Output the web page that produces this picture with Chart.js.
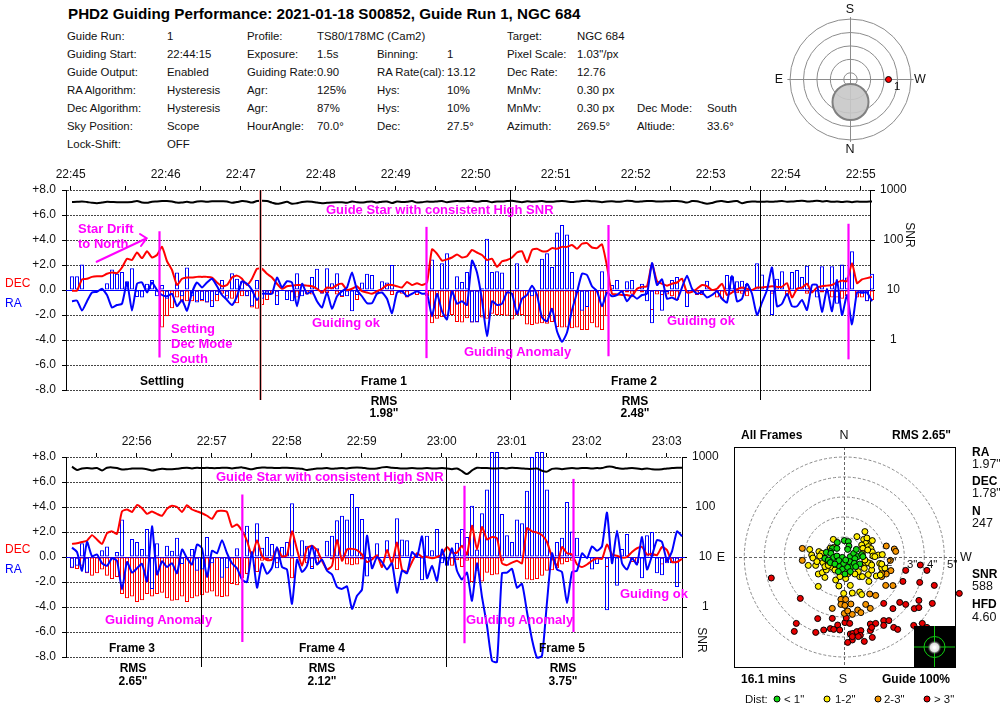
<!DOCTYPE html>
<html><head><meta charset="utf-8">
<script src="https://cdn.jsdelivr.net/npm/chart.js@4"></script>
<style>
html,body{margin:0;padding:0;background:#fff;width:1000px;height:716px;overflow:hidden}
canvas{position:absolute;display:block}
.t{position:absolute;white-space:nowrap;font-family:"Liberation Sans",Arial,sans-serif;font-size:11.4px;line-height:14px;color:#111;transform:translateY(-50%);z-index:5}
.c{transform:translate(-50%,-50%)}
.b{font-weight:bold;font-size:12px;color:#000}
.m{font-weight:bold;font-size:13px;color:#ff00ff}
.s{font-size:12.5px}
.v{transform:translate(-50%,-50%) rotate(90deg);font-size:12px}
.dot{position:absolute;width:7px;height:7px;border-radius:50%;border:1px solid #000;box-sizing:border-box;z-index:5;transform:translate(-50%,-50%)}
</style></head><body>
<canvas id="top" width="940" height="250" style="left:0;top:160px"></canvas>
<canvas id="bot" width="750" height="250" style="left:0;top:427px"></canvas>
<canvas id="sky" width="141" height="141" style="left:780px;top:9px"></canvas>
<canvas id="all" width="275" height="240" style="left:725px;top:437px"></canvas>
<script>
// ---------- top panel (22:45 - 22:55) samples ----------
const raBarsTop=[1.1,1.1,2.05,0,0,0,0,0.55,1.65,1.3,
1.45,0.7,1.75,-0.55,-0.6,0.5,0.8,-0.5,0.4,-0.7,
0,1.4,-0.5,1.8,-0.5,-1.0,-0.8,-1.0,-1.35,-0.4,
0.8,-0.7,1.35,0.9,0.7,-0.5,-1.3,0.8,-0.7,-0.3,
0,-1.2,0,-0.8,-0.9,1.35,-0.5,0,1.05,1.7,
-0.3,1.75,0.55,1.35,-0.5,-0.5,-1.7,-0.4,0.6,1.3,
1.2,-0.3,0.7,0.6,2.0,0,0,0,0,0,
0,0,2.45,0,2.15,2.95,0,1.1,0.65,1.45,
-2.6,-2.6,0.15,4.1,1.45,1.5,1.4,0,0,2.15,
0,0,-0.5,0,2.5,2.95,1.85,4.6,5.2,4.45,
1.45,-0.2,-1.65,-1.35,0,0,1.5,0,0.4,0.8,
0,0.7,0.8,0,0.5,-0.9,-2.65,-0.1,-1.65,-0.2,
0.8,1.05,-0.1,-1.35,0,0,-0.2,0.75,0,0,
0,1.2,1.1,0.7,0.75,0.5,0,2.15,1.25,0,
-2.0,0.9,1.5,0,1.45,1.6,1.05,1.95,-0.05,-0.6,
1.9,0,1.9,-1.1,2.05,1.0,3.1,0,-0.3,-0.9,1.3];
const decBarsTop=[0,0,0,0,0,0,0,0,0,0,
0,0,0,0,0,0,0,0,-3.0,-2.1,
-1.45,-0.6,-1.0,-0.9,-0.9,-0.9,-0.9,-1.0,-0.9,-0.9,
-0.3,-0.5,-0.7,-1.05,-0.5,-0.5,-1.4,-1.5,-1.2,-0.8,
-0.3,-0.5,0,-0.1,-0.2,-0.6,-0.1,-0.35,-0.35,0,
-0.2,-0.25,0,-0.35,-0.55,0,0,-0.8,0,0,
0,0,-0.1,-0.1,-0.4,-0.1,-0.3,-0.6,-0.1,-0.4,
0,-0.5,-2.65,-2.3,-2.15,-2.05,-2.0,-2.55,-2.6,-2.25,
-2.6,-2.55,-2.2,-2.3,-1.9,-2.0,-2.0,-2.05,-2.35,-2.0,
-2.0,-2.75,-2.8,-2.7,-2.65,-2.7,-2.55,-2.95,-3.0,-3.0,
-3.05,-3.0,-3.2,-3.2,-2.65,-3.0,-3.2,-2.1,0,0,
-0.2,-0.2,-0.3,-0.1,-0.2,-0.1,-1.6,-0.35,-0.4,-0.35,
-0.5,-0.8,0,0,0,-0.4,-0.4,0,0,-0.6,
-0.7,0,0,-0.25,-0.3,-0.5,0,0,0,0,
-0.3,0,0,-0.5,0,0,0,-0.3,0,0,
-0.2,-0.2,-0.6,-0.6,-0.7,-0.5,0,-0.6,-0.6,-0.9,-0.8];
const decLineTop=[-0.05,-0.05,0.85,0.9,1.05,1.1,1.1,1.3,1.4,1.35,
1.8,2.5,2.4,3.0,2.55,3.1,2.6,2.8,3.45,2.3,
1.6,0.4,0.9,1.0,1.0,1.05,1.05,1.05,1.0,0.6,
0.3,0.4,1.0,1.15,0.9,0.4,0.9,1.7,1.7,1.3,
1.0,0.5,0.1,0.3,0.35,0.4,0.4,0.35,0.3,0.1,
-0.2,0.2,0.15,0.4,0.5,0,0.1,0.3,-0.1,-0.2,
-0.3,-0.1,0.1,0.4,0.4,0.3,0.2,0.65,0.4,0.55,
0.4,0.6,3.25,2.9,2.35,2.45,2.6,2.85,2.6,2.7,
3.2,3.0,2.8,2.4,2.5,1.85,2.3,2.4,2.6,3.0,
3.1,2.2,3.2,3.3,3.1,3.1,3.35,3.3,3.45,3.45,
3.6,3.3,3.7,3.75,3.4,3.35,3.65,1.9,-0.3,-0.35,
-0.4,-0.4,-0.5,0.1,0.25,0.3,2.1,0.7,0.5,0.35,
0.5,0.6,0.9,-0.2,-0.15,0.1,0.4,0.3,0,0.1,
0.5,-0.4,-0.2,0.05,0.2,0.1,0,0.2,0.2,0.25,
0.3,0.25,0.25,0.55,-0.6,0.1,0.2,0.5,-0.2,0.2,
0.3,0.35,0.4,0.6,0.75,0.7,2.15,0.55,0.85,0.95,1.05];
const raLineTop=[-0.9,-0.85,-1.65,-0.9,-0.2,-0.15,0.1,-0.4,-1.4,-1.2,
-1.1,0.6,-1.65,0.5,0.6,-0.2,0.6,0,-0.4,-0.5,
-0.3,-1.3,-0.8,-1.65,-0.2,0.6,0.2,0.6,0.9,0.3,
-0.4,-0.8,-1.2,-0.5,0.7,0.5,0,-0.8,-0.3,-0.3,
-0.3,1.0,0.2,0.7,0.6,-1.3,0.5,-0.3,-0.1,-0.9,
-1.4,-0.2,-1.5,-0.5,-0.1,0.2,1.4,0,-0.5,-1.05,
-1.05,-0.3,-0.2,-0.7,-1.85,-0.2,-0.1,-0.5,-0.3,-0.1,
-0.3,-0.3,-2.1,-0.3,-1.7,-2.35,-0.1,-1.1,-0.9,-1.2,
2.35,1.4,-0.8,-3.7,-0.9,-1.2,-1.1,-0.2,-0.3,-1.9,
-0.7,-0.4,0.35,-0.4,-2.2,-2.5,-1.5,-3.3,-4.15,-3.4,
-1.6,-0.2,1.3,1.2,0.3,-0.1,-1.3,-0.2,-0.5,-0.4,
-0.1,-0.9,-0.4,-0.7,-0.4,-0.3,2.15,0.4,0.85,-0.7,
-0.6,-0.8,0.2,1.15,0.1,-0.3,-0.2,-0.6,-0.4,-0.1,
-0.7,-1.0,1.15,-0.9,-0.7,0.5,-0.3,-2.0,-1,0,
1.8,-1.3,-1.1,-0.3,-1.3,-1.3,-0.8,-1.6,0.4,0.4,
-1.75,0.1,-1.7,0.8,-2.0,-0.4,-2.75,-0.2,-0.2,-0.2,-0.9];
const snrTop=[575,580,590,575,555,545,560,580,575,570,
570,570,575,600,565,555,585,590,600,605,
590,560,565,580,560,590,595,585,595,595,
595,590,555,575,600,590,560,600,610,600,
560,530,550,580,530,545,575,590,580,560,
545,555,565,570,570,555,590,570,560,580,
590,560,585,590,550,590,575,580,600,560,
570,590,580,590,600,570,590,600,595,600,
600,580,600,600,570,590,590,600,610,590,
570,595,585,590,600,585,580,595,605,590,
575,590,600,610,595,590,570,590,595,585,
590,610,600,580,590,600,605,590,590,595,
600,605,590,560,600,595,560,530,550,590,
600,575,590,600,545,575,590,585,580,590,
580,590,600,585,590,600,610,590,595,610,
590,600,580,590,575,590,570,590,580,585,590];
const tickPosTop=[-0.26,10.74,18.74,25.74,33.74,41.74,49.74,56.74,64.74,72.74,80.74,88.74,96.74,104.74,112.74,119.74,127.74,135.74,142.74,150.74,157.74];
const timeLabelsTop={"-0.26":"22:45","18.74":"22:46","33.74":"22:47","49.74":"22:48","64.74":"22:49","80.74":"22:50","96.74":"22:51","112.74":"22:52","127.74":"22:53","142.74":"22:54","157.74":"22:55"};
const frameBreaksTop=[37.6,87.66,137.66];
const eventMarksTop=[[17.5,4.7,-5.4],[70.9,5.05,-5.45],[107.3,5.2,-5.3],[155.3,5.3,-5.55]];

// ---------- bottom panel (22:56 - 23:03) samples ----------
const raBarsBot=[-0.85,-0.7,1.1,-1.25,0,0,0.55,0.85,0,0.4,
3.0,0,1.45,1.2,0.65,2.25,-2.55,1.1,0,0.9,
0.5,1.55,-0.55,0,0.65,-1.1,-1.0,1.6,-0.5,0,
-1.65,-0.9,0,0.7,0,2.5,0,2.7,0.75,1.6,
1.05,-0.9,0.8,1.2,4.3,0,1.35,0.9,-0.95,0.7,
0,1.3,1.7,2.95,3.3,3.0,5.05,4.0,3.05,-1.55,
0,1.1,0,1.35,0,3.1,1.4,1.35,0,0,
-1.85,1.7,0.55,2.25,-0.5,-0.7,0,1.15,2.25,1.6,
4.1,0.6,3.5,5.4,8.4,8.4,3.45,1.75,1.2,3.0,
2.7,5.3,8.0,8.4,8.4,5.4,0,1.2,1.55,4.4,
2.05,1.55,0,0,-1.0,-0.55,0,-4.25,0,-2.3,
0.65,1.85,0,0,-1.7,1.75,2.0,-1.3,-1.45,-0.5,
-0.5,-2.4,0];
const decBarsBot=[-0.9,-0.95,-0.7,-1.3,-1.5,-1.3,-1.0,-1.5,-1.75,-1.6,
-2.95,-3.3,-3.15,-3.6,-3.45,-2.95,-3.15,-2.95,-2.85,-3.3,
-3.5,-3.45,-3.15,-3.6,-3.3,-3.15,-3.05,-2.85,-2.75,-3.15,
-3.2,-3.15,-2.15,-2.25,-1.7,-1.35,0,-1.2,-0.3,-0.2,
-0.1,-0.5,-0.1,-0.1,-1.7,0,-0.1,-0.5,-0.8,-0.5,
-0.1,-0.1,-0.2,-1.05,-0.1,-0.6,-0.65,-0.6,-0.2,-0.1,
0,-0.1,0,0,0,-0.95,0,0,0,0,
0,0,0,0,0,0,-0.7,-0.25,-0.8,-0.3,
-2.0,-1.1,-1.95,-1.25,-1.45,-1.4,-0.3,-0.1,-0.1,-0.1,
0,-1.8,-1.85,-1.75,-1.5,-1.1,-1.05,-0.9,-0.6,-0.4,
-0.3,0,0,0,0,0,0,-0.8,0,0,
0,0,-0.4,-0.5,0,0,0,0,-0.6,-0.4,
-0.4,-0.4,0];
const decLineBot=[1.05,1.1,1.2,1.3,1.75,1.4,1.05,1.9,2.05,1.85,
3.65,3.8,3.6,4.15,3.9,3.45,3.65,3.45,3.3,3.85,
4.1,4.0,3.6,4.15,3.8,3.65,3.5,3.3,3.05,3.65,
3.7,3.6,2.4,2.6,2.1,1.3,0.1,1.35,0.1,-0.25,
-0.2,0.7,0.05,0.15,2.05,0.6,-0.7,0.7,0.9,0.55,
-0.3,-1.0,-0.7,1.35,-0.3,0.6,0.65,0.55,0.2,-0.4,
-0.2,0.15,-0.8,0.55,-0.5,1.15,-1.0,-1.2,-0.4,0.3,
0,0,-0.1,0,0.2,0.8,0.35,0.35,0.9,0.2,
2.5,0.6,2.4,1.4,1.6,1.5,-0.5,-0.65,-0.45,-0.3,
-0.5,2.3,2.05,1.95,1.75,1.2,0,-0.7,0.8,0.3,
0.2,-0.6,-0.8,-0.6,-0.3,-0.1,-0.15,1.0,0.2,0.1,
-0.05,0,0.4,0.7,0.8,0.2,0.25,0.15,0.8,0.55,
-0.4,-0.4,-0.15];
const raLineBot=[0.75,0.4,-1.1,1.2,0.05,0.2,-0.5,-0.7,-0.1,-0.3,
-2.6,-0.4,-1.25,-0.9,-0.55,-1.95,2.45,-1.4,-0.35,-0.8,
-0.5,-1.3,0.6,-0.1,-0.6,1.0,0.7,-1.6,0.5,0.3,
1.35,0.3,-0.5,-0.9,-1.8,-2.0,0.4,-2.45,-0.5,-1.35,
-0.85,0.8,-0.8,-1.0,-3.75,-0.2,-1.2,-0.7,0.9,-0.6,
-0.2,-1.1,-1.4,-2.4,-2.55,-2.35,-4.15,-3.1,-2.6,1.7,
-0.9,0,-0.4,-1.0,-0.5,-2.85,-1.1,-1.3,0.4,0,
1.65,-1.7,-0.7,-1.9,0.6,-0.6,0.7,-1.1,-1.8,-1.25,
-3.5,-0.5,-3.2,-5.5,-8.3,-8.4,-1.3,-1.25,-0.95,-2.45,
-2.15,-4.4,-6.6,-8.05,-7.9,-3.6,0.3,-1,-1.2,-3.7,
-1.2,-1.1,0.3,-0.1,0.85,0.5,0.85,3.55,-0.5,2.1,
-0.5,-1.0,-0.1,-0.6,1.6,-1.0,0.1,1.35,1.2,-0.3,
0.45,2.05,1.65];
const snrBot=[640,550,590,600,590,600,540,610,620,600,
560,570,590,590,590,570,540,560,580,570,
570,580,600,610,590,610,600,610,600,600,
610,610,590,610,620,590,570,600,620,610,
610,600,610,610,600,590,580,550,570,590,
590,600,580,590,600,590,610,620,610,590,
580,590,620,630,610,600,590,590,600,590,
590,600,590,590,600,590,570,590,520,455,
540,610,600,600,590,590,600,590,610,600,
590,580,580,590,530,510,580,590,570,590,
600,590,600,600,590,600,600,640,640,600,
580,590,600,590,570,590,570,560,570,590,
600,610,610];
const tickPosBot=[4.94,12.94,19.94,27.94,35.94,42.94,49.94,57.94,65.94,73.94,80.94,87.94,94.94,102.94,110.94,118.94];
const timeLabelsBot={"12.94":"22:56","27.94":"22:57","42.94":"22:58","57.94":"22:59","73.94":"23:00","87.94":"23:01","102.94":"23:02","118.94":"23:03"};
const frameBreaksBot=[25.87,74.86];
const eventMarksBot=[[34.07,5,-6.8],[78.5,5.7,-6.9],[100.3,6.25,-6.0]];

// ---------- All Frames target: RA / Dec offset in arc-seconds ----------
const greenPts=[[0,0.82],[0.2,0.77],[-0.35,0.73],[0.23,0.55],[0.17,0.38],[-0.6,0.43],[-0.37,0.43],[-0.7,0.27],[-0.9,0.23],[-0.97,-0.07],[-0.67,0.18],[-0.53,-0.02],[-0.8,-0.15],[-0.7,-0.28],[-0.37,0.05],[-0.1,-0.02],[-0.27,-0.18],[-0.47,-0.35],[-0.23,-0.48],[-0.1,-0.62],[-0.03,-0.32],[-0.3,-0.73],[0.03,-0.85],[0.3,0.02],[0.27,-0.23],[0.47,0.18],[0.6,0.38],[0.67,0.02],[0.87,0.12],[0.53,-0.08],[0.37,-0.48],[0.17,-0.52],[0.3,-0.73],[0.5,-0.32],[0.77,-0.35],[0.93,0.02],[0.57,-0.48],[0.07,-0.15]];
const yellowPts=[[-1.73,0.38],[-1.63,0.1],[-1.57,-0.05],[-1.8,-0.42],[-1.43,-0.42],[-1.27,0.27],[-1.13,0.18],[-1.23,0.05],[-1.37,-0.23],[-1.07,-0.28],[-0.87,-0.15],[-1.3,-0.85],[-1.1,-0.78],[-0.9,-0.65],[-0.97,-1.02],[-1.3,-1.47],[-0.43,-1.15],[-0.27,-1.45],[0.07,-1.08],[0.3,-1.42],[0.4,-1.8],[-0.03,-1.82],[0.77,-1.75],[0.87,-1.88],[1.23,-1.22],[0.77,-0.98],[0.9,-0.98],[1.2,-0.88],[1.37,-0.65],[1.6,-0.95],[1.8,-0.9],[1.77,-0.32],[1.87,-0.55],[2.03,-0.55],[1.7,0.1],[1.9,0.12],[1.3,-0.32],[1.07,-0.32],[1.17,-0.28],[1.23,0.72],[1.03,1.27],[0.97,0.88],[1.13,0.95],[1.07,0.68],[1.4,0.82],[0.87,0.6],[0.93,0.43],[1.2,0.52],[1.33,0.42],[1.4,0.25],[0.9,0.18],[-0.55,0.88],[-0.53,0.48],[-0.7,0.45],[1.43,0.05],[-0.6,-0.52],[-0.47,-0.65],[0.7,-0.73],[0.2,-0.82],[1.03,-0.15],[1.0,-0.57],[1.37,-0.4],[1.87,-0.35],[0.63,1.02],[1.17,0.35],[1.53,0.02],[-0.97,-0.48],[-0.8,-0.42],[0.53,-0.85],[-0.22,-0.98]];
const orangePts=[[-2.1,0.43],[-2.1,-0.17],[2.1,0.55],[2.5,0.4],[2.57,0.28],[2.3,-0.17],[2.07,-1.42],[2.43,-1.43],[1.27,-1.85],[1.57,-1.92],[-0.6,-2.57],[-0.17,-2.12],[0.07,-2.12],[-0.17,-2.37],[0.03,-2.42],[0.33,-2.35],[0,-2.82],[0.17,-2.7],[0.4,-2.87],[0.67,-2.65],[0.83,-2.78],[1.07,-2.37],[1.3,-2.57],[1.87,-0.98],[2.1,-0.85],[2.33,-0.68],[1.87,-0.82]];
const redPts=[[-3.65,-1.05],[-2.2,-2.07],[-2.4,-3.32],[-2.5,-3.72],[-1.43,-3.77],[-1.33,-3.08],[-0.6,-3.07],[-1.03,-3.65],[-0.7,-3.58],[-0.53,-3.62],[-0.33,-3.4],[-0.23,-3.65],[0.03,-3.28],[0.1,-3.05],[0.27,-3.32],[0.3,-3.85],[0.43,-3.82],[0.63,-3.73],[0.83,-3.68],[0.8,-3.92],[0.4,-4.15],[0.17,-4.27],[1.0,-4.22],[1.4,-4.02],[1.3,-3.68],[1.3,-3.35],[1.57,-3.32],[1.97,-3.18],[1.97,-3.42],[2.23,-3.18],[2.47,-3.52],[2.67,-3.62],[3.47,-3.42],[3.9,-3.32],[4.13,-3.52],[1.97,-2.32],[2.43,-2.58],[2.77,-2.27],[3.07,-2.37],[3.5,-2.58],[3.73,-2.53],[3.73,-2.17],[4.4,-2.32],[2.93,-1.22],[3.07,-0.67],[3.77,-1.27],[4.5,-1.42],[4.13,-0.67],[3.8,-0.4],[5.92,-0.78],[5.87,-1.32],[5.87,-1.48],[5.75,-1.82],[1.37,-3.52],[0.4,-3.98],[0.7,-3.98]];
const targetRings=[1,2,3,4,5];

// ---------- sky position: degrees from zenith ----------
const skyRings=[10,30,50,70,90];
const starPos=[[56.6,0]];
const moonPos=[[0,-33.5]];

// ---------- texts ----------
const titleText="PHD2 Guiding Performance: 2021-01-18 S00852, Guide Run 1, NGC 684";
const infoColumns=[
 [67,["Guide Run:","Guiding Start:","Guide Output:","RA Algorithm:","Dec Algorithm:","Sky Position:","Lock-Shift:"]],
 [167,["1","22:44:15","Enabled","Hysteresis","Hysteresis","Scope","OFF"]],
 [247,["Profile:","Exposure:","Guiding Rate:","Agr:","Agr:","HourAngle:",""]],
 [317,["TS80/178MC (Cam2)","1.5s","0.90","125%","87%","70.0°",""]],
 [377,["","Binning:","RA Rate(cal):","Hys:","Hys:","Dec:",""]],
 [447,["","1","13.12","10%","10%","27.5°",""]],
 [507,["Target:","Pixel Scale:","Dec Rate:","MnMv:","MnMv:","Azimuth:",""]],
 [577,["NGC 684","1.03\"/px","12.76","0.30 px","0.30 px","269.5°",""]],
 [637,["","","","","Dec Mode:","Altiude:",""]],
 [707,["","","","","South","33.6°",""]]
];
const infoRows=[36,54,72,90,108,126,144];
const notes=[
 ["Star Drift",78,229,"m"],["to North",78,244,"m"],["Setting",171,329,"m"],["Dec Mode",171,344,"m"],["South",171,359,"m"],
 ["Guide Star with consistent High SNR",326,210,"m"],["Guiding ok",312,323,"m"],["Guiding Anomaly",464,352,"m"],["Guiding ok",667,321,"m"],
 ["Guide Star with consistent High SNR",216,477,"m"],["Guiding Anomaly",105,620,"m"],["Guiding Anomaly",466,620,"m"],["Guiding ok",620,594,"m"],
 ["All Frames",741,435,"b"],["RMS 2.65\"",892,435,"b"],["16.1 mins",741,679,"b"],["Guide 100%",882,679,"b"],
 ["Dist:",745,699,""],["< 1\"",784,699,""],["1-2\"",835,699,""],["2-3\"",884,699,""],["> 3\"",934,699,""],
 ["2\"",886,562,""],["3\"",907,564,""],["4\"",927,564,""],["5\"",947,564,""],
 ["RA",972,452,"b"],["1.97\"",972,464,"s"],["DEC",972,481,"b"],["1.78\"",972,493,"s"],["N",972,511,"b"],["247",972,523,"s"],
 ["SNR",972,574,"b"],["588",972,586,"s"],["HFD",972,604,"b"],["4.60",972,617,"s"],["1",894,86,""]
];
const centred=[
 ["Settling",162,381,"b"],["Frame 1",384,381,"b"],["Frame 2",634,381,"b"],["RMS",384,401,"b"],["1.98\"",384,413,"b"],["RMS",635,401,"b"],["2.48\"",635,413,"b"],
 ["Frame 3",132,648,"b"],["Frame 4",322,648,"b"],["Frame 5",562,648,"b"],["RMS",133,668,"b"],["2.65\"",133,681,"b"],["RMS",322,668,"b"],["2.12\"",322,681,"b"],["RMS",563,668,"b"],["3.75\"",563,681,"b"],
 ["N",844,435,"s"],["S",843,679,"s"],["W",966,557,"s"],["E",721,557,"s"],["S",850,9,"s"],["N",850,149,"s"],["E",779,79,"s"],["W",920,79,"s"]
];
const sideLabels=[["DEC",5,283,"#ff0000"],["RA",5,303,"#0000ff"],["DEC",5,549,"#ff0000"],["RA",5,569,"#0000ff"]];
const rotated=[["SNR",910,235],["SNR",702,640]];
const legendDots=[[777,699,"#10d810"],[827,699,"#ffee00"],[878,699,"#f59400"],[927,699,"#e80000"]];

function addText(txt,x,y,cls,col){const d=document.createElement('div');d.className='t '+cls;d.textContent=txt;d.style.left=x+'px';d.style.top=y+'px';if(col)d.style.color=col;document.body.appendChild(d);return d;}
const tt=addText(titleText,68,14,'b');tt.style.fontSize='15.2px';
infoColumns.forEach(([x,vals])=>vals.forEach((s,r)=>{if(s)addText(s,x,infoRows[r],'');}));
notes.forEach(([s,x,y,k])=>addText(s,x,y,k));
centred.forEach(([s,x,y,k])=>addText(s,x,y,'c '+k));
sideLabels.forEach(([s,x,y,c])=>{const d=addText(s,x,y,'',c);d.style.fontSize='12px';});
rotated.forEach(([s,x,y])=>addText(s,x,y,'v'));
legendDots.forEach(([x,y,c])=>{const d=document.createElement('div');d.className='dot';d.style.left=x+'px';d.style.top=y+'px';d.style.background=c;document.body.appendChild(d);});

// ---------- charts ----------
Chart.defaults.font.family='"Liberation Sans",Arial,sans-serif';
Chart.defaults.font.size=12;
Chart.defaults.color='#111';
const xy=a=>a.map((v,i)=>({x:i,y:v}));
const pts=a=>a.map(p=>({x:p[0],y:p[1]}));

const timelineMarks={id:'timelineMarks',
 beforeDatasetsDraw(ch){const {ctx,chartArea:a,scales:{y}}=ch;const p=Math.round(y.getPixelForValue(0))+.5;
  ctx.save();ctx.strokeStyle='#0000ff';ctx.lineWidth=1;ctx.beginPath();ctx.moveTo(a.left,p);ctx.lineTo(a.right+3,p);ctx.stroke();ctx.restore();},
 afterDatasetsDraw(ch,_,o){const {ctx,scales:{x,y}}=ch;ctx.save();
  o.breaks.forEach((b,i)=>{const p=Math.round(x.getPixelForValue(b))+.5;
   if(o.redBreak===i){ctx.strokeStyle='#f0a0a0';ctx.lineWidth=3;ctx.beginPath();ctx.moveTo(p,y.getPixelForValue(8));ctx.lineTo(p,y.getPixelForValue(-8.8));ctx.stroke();}
   ctx.strokeStyle='#000';ctx.lineWidth=1;ctx.beginPath();ctx.moveTo(p,y.getPixelForValue(8));ctx.lineTo(p,y.getPixelForValue(-8.8));ctx.stroke();});
  ctx.strokeStyle='#ff00ff';ctx.lineWidth=2.2;
  o.events.forEach(([s,v1,v2])=>{const p=x.getPixelForValue(s);ctx.beginPath();ctx.moveTo(p,y.getPixelForValue(v1));ctx.lineTo(p,y.getPixelForValue(v2));ctx.stroke();});
  if(o.arrow){ctx.lineWidth=2;ctx.lineCap='round';const P=q=>[x.getPixelForValue(q[0]),y.getPixelForValue(q[1])];
   const [s,t,b1,b2]=o.arrow.map(P);ctx.beginPath();ctx.moveTo(...s);ctx.lineTo(...t);ctx.moveTo(...b1);ctx.lineTo(...t);ctx.lineTo(...b2);ctx.stroke();}
  ctx.restore();}};

function timeline(id,d,xMax,rightW){
 const labelOf=v=>d.labels[String(v)]||'';
 const barOpts={backgroundColor:'rgba(0,0,0,0)',borderWidth:1,barPercentage:0.8,categoryPercentage:1,grouped:false,clip:false,yAxisID:'y',borderSkipped:false};
 return new Chart(document.getElementById(id),{
  type:'bar',
  plugins:[timelineMarks],
  data:{datasets:[
   {type:'line',label:'RA',data:xy(d.raLine),borderColor:'#0000ff',borderWidth:2,pointRadius:0,tension:.18,clip:false,order:1,yAxisID:'y'},
   {type:'line',label:'DEC',data:xy(d.decLine),borderColor:'#ff0000',borderWidth:2,pointRadius:0,tension:.18,clip:false,order:2,yAxisID:'y'},
   {type:'line',label:'SNR',data:xy(d.snr),borderColor:'#000',borderWidth:2,pointRadius:0,tension:.3,clip:false,order:3,yAxisID:'ySnr'},
   {label:'RA pulse',data:xy(d.raBars),borderColor:'#0000ff',order:4,...barOpts},
   {label:'DEC pulse',data:xy(d.decBars),borderColor:'#ff0000',order:5,...barOpts}
  ]},
  options:{responsive:false,animation:false,devicePixelRatio:1,events:[],
   layout:{padding:{bottom:20},autoPadding:false},
   plugins:{legend:{display:false},tooltip:{enabled:false},
    timelineMarks:{breaks:d.breaks,events:d.events,redBreak:d.redBreak,arrow:d.arrow}},
   scales:{
    x:{type:'linear',position:'top',offset:false,min:-1.2,max:xMax,
     afterBuildTicks:s=>{s.ticks=d.ticks.map(v=>({value:v}));},
     afterFit:s=>{s.height=30;},
     border:{display:false},
     grid:{offset:false,drawOnChartArea:false,drawTicks:true,tickLength:4,tickColor:'#000'},
     ticks:{autoSkip:false,maxRotation:0,padding:4,color:'#111',callback:labelOf}},
    y:{type:'linear',position:'left',min:-8,max:8,
     afterFit:s=>{s.width=66;},
     border:{color:'#000',dash:[2,1]},
     grid:{color:'#444',drawTicks:true,tickLength:4,tickColor:'#000',tickBorderDash:[]},
     ticks:{stepSize:2,padding:6,color:'#111',callback:v=>(v>0?'+':'')+v.toFixed(1)}},
    ySnr:{type:'logarithmic',position:'right',min:0.1,max:1000,
     afterFit:s=>{s.width=rightW;},
     afterBuildTicks:s=>{s.ticks=[1,10,100,1000].map(v=>({value:v}));},
     border:{color:'#000'},
     grid:{drawOnChartArea:false,drawTicks:true,tickLength:5,tickColor:'#000'},
     ticks:{padding:5,crossAlign:'center',color:'#111',callback:v=>String(v)}}
   }}
 });
}
timeline('top',{raLine:raLineTop,decLine:decLineTop,snr:snrTop,raBars:raBarsTop,decBars:decBarsTop,ticks:tickPosTop,labels:timeLabelsTop,breaks:frameBreaksTop,events:eventMarksTop,redBreak:0,
 arrow:[[4.93,2.26],[14.93,4.14],[13.6,4.48],[13.8,3.52]]},159.6,70);
timeline('bot',{raLine:raLineBot,decLine:decLineBot,snr:snrBot,raBars:raBarsBot,decBars:decBarsBot,ticks:tickPosBot,labels:timeLabelsBot,breaks:frameBreaksBot,events:eventMarksBot,redBreak:-1},122,68);

// target scatter
const targetDecor={id:'targetDecor',
 beforeDatasetsDraw(ch){const {ctx,chartArea:a,scales:{x,y}}=ch;const cx=x.getPixelForValue(0),cy=y.getPixelForValue(0);
  ctx.save();ctx.fillStyle='#fff';ctx.fillRect(a.left,a.top,a.width,a.height);
  ctx.strokeStyle='#8a8a8a';ctx.lineWidth=1;ctx.setLineDash([3,2]);
  targetRings.forEach(r=>{ctx.beginPath();ctx.arc(cx,cy,x.getPixelForValue(r)-cx,0,Math.PI*2);ctx.stroke();});
  ctx.strokeStyle='#666';
  ctx.beginPath();ctx.moveTo(a.left,Math.round(cy)+.5);ctx.lineTo(a.right,Math.round(cy)+.5);ctx.moveTo(Math.round(cx)+.5,a.top);ctx.lineTo(Math.round(cx)+.5,a.bottom);ctx.stroke();
  ctx.restore();},
 afterDatasetsDraw(ch){const {ctx,chartArea:a}=ch;ctx.save();
  const L=a.right-41,T=a.bottom-41;ctx.fillStyle='#000';ctx.fillRect(L,T,41,41);
  const cx=L+20.5,cy=T+21;
  ctx.strokeStyle='#10c810';ctx.lineWidth=1;ctx.beginPath();ctx.moveTo(L,cy);ctx.lineTo(L+41,cy);ctx.moveTo(cx,T);ctx.lineTo(cx,T+41);ctx.moveTo(cx+10.5,cy);ctx.arc(cx,cy,10.5,0,Math.PI*2);ctx.stroke();
  const g=ctx.createRadialGradient(cx,cy+.5,1,cx,cy+.5,7);g.addColorStop(0,'#fff');g.addColorStop(.55,'#ddd');g.addColorStop(1,'rgba(60,60,60,0)');
  ctx.fillStyle=g;ctx.beginPath();ctx.arc(cx,cy+.5,7,0,Math.PI*2);ctx.fill();
  ctx.strokeStyle='#000';ctx.lineWidth=1;ctx.strokeRect(a.left+.5,a.top+.5,a.width,a.height);
  ctx.restore();}};
const ptDs=(a,c)=>({data:pts(a),backgroundColor:c,borderColor:'#000',borderWidth:1,pointRadius:3,clip:false});
new Chart(document.getElementById('all'),{type:'scatter',plugins:[targetDecor],
 data:{datasets:[ptDs(greenPts,'#10d810'),ptDs(yellowPts,'#ffee00'),ptDs(orangePts,'#f59400'),ptDs(redPts,'#e80000')]},
 options:{responsive:false,animation:false,devicePixelRatio:1,events:[],
  layout:{padding:{left:9,right:45,top:10,bottom:10},autoPadding:false},
  plugins:{legend:{display:false},tooltip:{enabled:false}},
  scales:{x:{type:'linear',display:false,min:-5.515,max:5.535},y:{type:'linear',display:false,min:-5.5,max:5.5}}}});

// sky chart
const skyDecor={id:'skyDecor',
 beforeDatasetsDraw(ch){const {ctx,scales:{x,y}}=ch;const cx=x.getPixelForValue(0),cy=y.getPixelForValue(0);const k=x.getPixelForValue(1)-cx;
  ctx.save();ctx.strokeStyle='#8c8c8c';ctx.lineWidth=1;
  skyRings.forEach(r=>{ctx.beginPath();ctx.arc(cx,cy,r*k,0,Math.PI*2);ctx.stroke();});
  ctx.beginPath();ctx.moveTo(cx-94*k,cy);ctx.lineTo(cx+94*k,cy);ctx.moveTo(cx,cy-93*k);ctx.lineTo(cx,cy+93*k);ctx.stroke();ctx.restore();}};
new Chart(document.getElementById('sky'),{type:'scatter',plugins:[skyDecor],
 data:{datasets:[
  {data:pts(starPos),backgroundColor:'#ff0000',borderColor:'#000',borderWidth:1,pointRadius:3,clip:false},
  {data:pts(moonPos),backgroundColor:'rgba(200,200,200,.9)',borderColor:'#808080',borderWidth:2,pointRadius:18,clip:false}
 ]},
 options:{responsive:false,animation:false,devicePixelRatio:1,events:[],
  layout:{autoPadding:false},
  plugins:{legend:{display:false},tooltip:{enabled:false}},
  scales:{x:{type:'linear',display:false,min:-105,max:105},y:{type:'linear',display:false,min:-105,max:105}}}});
</script></body></html>
